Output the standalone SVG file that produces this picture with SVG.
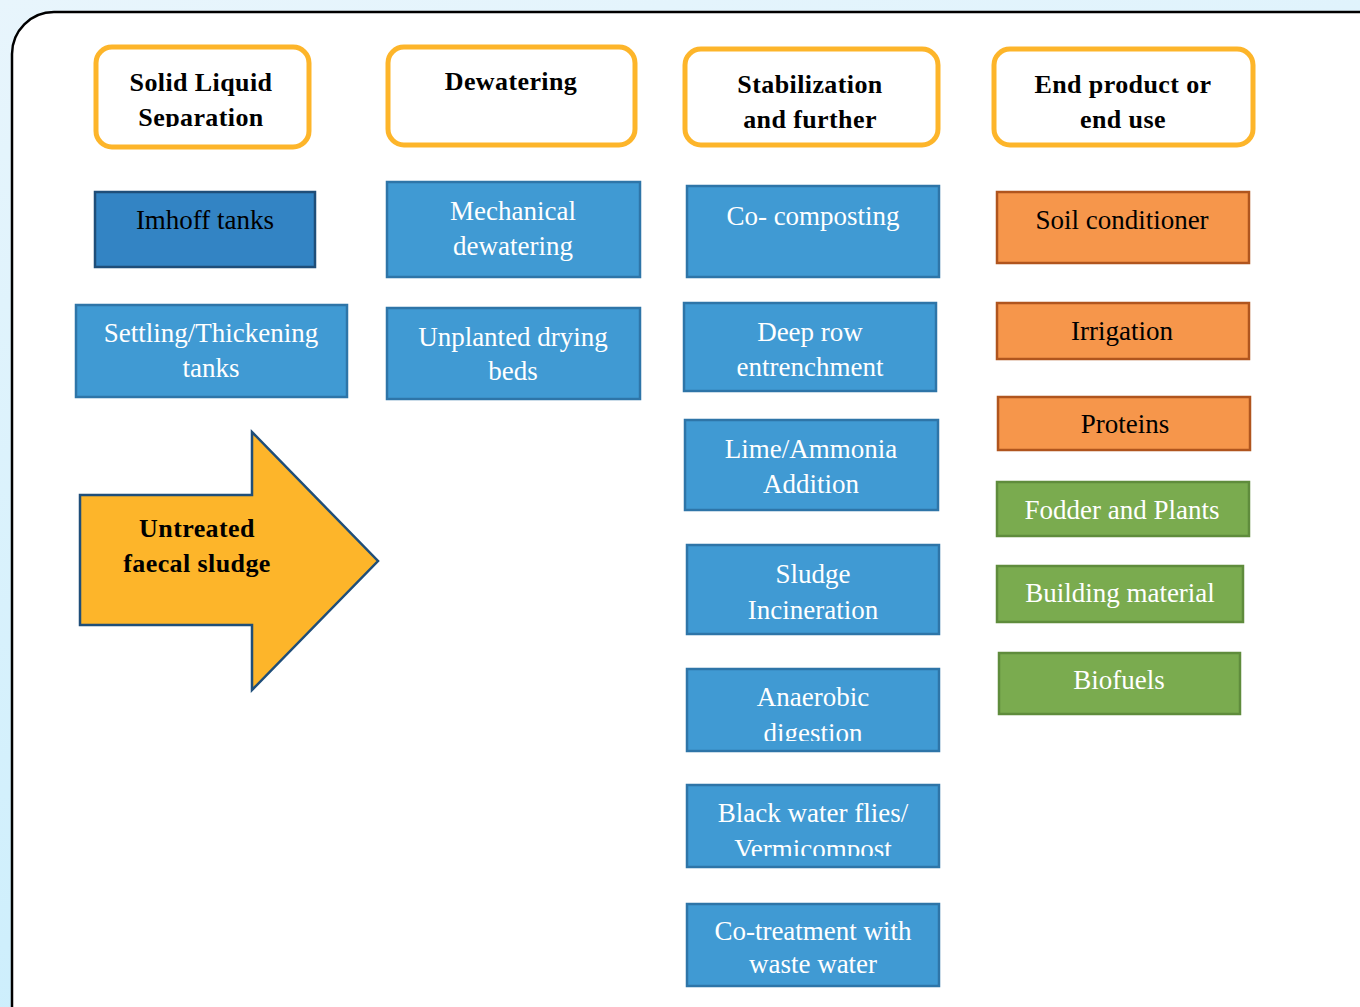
<svg xmlns="http://www.w3.org/2000/svg" width="1360" height="1007" viewBox="0 0 1360 1007">
<defs>
<linearGradient id="bg" x1="0" y1="0" x2="0.3" y2="1">
<stop offset="0" stop-color="#e8f5fc"/>
<stop offset="1" stop-color="#cbeefc"/>
</linearGradient>
<clipPath id="clipSep"><rect x="95" y="46" width="216" height="81"/></clipPath>
<clipPath id="clipAna"><rect x="687" y="669" width="253" height="72"/></clipPath>
<clipPath id="clipBlk"><rect x="687" y="785" width="253" height="71"/></clipPath>
</defs>
<style>
.hdr{fill:#ffffff;stroke:#FDB52A;stroke-width:5}
.blue{fill:#409AD3;stroke:#2E75A8;stroke-width:2.5}
.dblue{fill:#3384C4;stroke:#1F4E79;stroke-width:2.5}
.orng{fill:#F6964B;stroke:#B0551E;stroke-width:2.5}
.grn{fill:#7AAB4F;stroke:#5F8C3C;stroke-width:2.5}
.ht{font-family:"Liberation Serif","Times New Roman",serif;font-weight:bold;font-size:26px;fill:#000;text-anchor:middle;letter-spacing:0.4px}
.bt{font-family:"Liberation Serif","Times New Roman",serif;font-size:27px;fill:#ffffff;text-anchor:middle}
.kt{font-family:"Liberation Serif","Times New Roman",serif;font-size:27px;fill:#000000;text-anchor:middle}
</style>
<rect width="1360" height="1007" fill="url(#bg)"/>
<rect x="12" y="12" width="1420" height="1060" rx="42" fill="#ffffff" stroke="#000000" stroke-width="2.5"/>

<g id="h1"><rect class="hdr" x="96" y="47" width="213" height="100" rx="16"/>
<g clip-path="url(#clipSep)"><text class="ht" x="201" y="91">Solid Liquid</text><text class="ht" x="201" y="126">Separation</text></g></g>
<g id="h2"><rect class="hdr" x="388" y="47" width="247" height="98" rx="16"/>
<text class="ht" x="511" y="90">Dewatering</text></g>
<g id="h3"><rect class="hdr" x="685" y="49" width="253" height="96" rx="16"/>
<text class="ht" x="810" y="93">Stabilization</text><text class="ht" x="810" y="128">and further</text></g>
<g id="h4"><rect class="hdr" x="994" y="49" width="259" height="96" rx="16"/>
<text class="ht" x="1123" y="93">End product or</text><text class="ht" x="1123" y="128">end use</text></g>

<g id="imhoff"><rect class="dblue" x="95" y="192" width="220" height="75"/><text class="kt" x="205" y="229">Imhoff tanks</text></g>
<g id="settling"><rect class="blue" x="76" y="305" width="271" height="92"/><text class="bt" x="211" y="342">Settling/Thickening</text><text class="bt" x="211" y="377">tanks</text></g>
<g id="mech"><rect class="blue" x="387" y="182" width="253" height="95"/><text class="bt" x="513" y="220">Mechanical</text><text class="bt" x="513" y="255">dewatering</text></g>
<g id="unplanted"><rect class="blue" x="387" y="308" width="253" height="91"/><text class="bt" x="513" y="346">Unplanted drying</text><text class="bt" x="513" y="380">beds</text></g>

<g id="cocomp"><rect class="blue" x="687" y="186" width="252" height="91"/><text class="bt" x="813" y="225">Co- composting</text></g>
<g id="deeprow"><rect class="blue" x="684" y="303" width="252" height="88"/><text class="bt" x="810" y="341">Deep row</text><text class="bt" x="810" y="376">entrenchment</text></g>
<g id="lime"><rect class="blue" x="685" y="420" width="253" height="90"/><text class="bt" x="811" y="458">Lime/Ammonia</text><text class="bt" x="811" y="493">Addition</text></g>
<g id="incin"><rect class="blue" x="687" y="545" width="252" height="89"/><text class="bt" x="813" y="583">Sludge</text><text class="bt" x="813" y="619">Incineration</text></g>
<g id="anaer"><rect class="blue" x="687" y="669" width="252" height="82"/><g clip-path="url(#clipAna)"><text class="bt" x="813" y="706">Anaerobic</text><text class="bt" x="813" y="742">digestion</text></g></g>
<g id="bsf"><rect class="blue" x="687" y="785" width="252" height="82"/><g clip-path="url(#clipBlk)"><text class="bt" x="813" y="822">Black water flies/</text><text class="bt" x="813" y="858">Vermicompost</text></g></g>
<g id="cotreat"><rect class="blue" x="687" y="904" width="252" height="82"/><text class="bt" x="813" y="940">Co-treatment with</text><text class="bt" x="813" y="973">waste water</text></g>

<g id="soil"><rect class="orng" x="997" y="192" width="252" height="71"/><text class="kt" x="1122" y="229">Soil conditioner</text></g>
<g id="irrig"><rect class="orng" x="997" y="303" width="252" height="56"/><text class="kt" x="1122" y="340">Irrigation</text></g>
<g id="prot"><rect class="orng" x="998" y="397" width="252" height="53"/><text class="kt" x="1125" y="433">Proteins</text></g>
<g id="fodder"><rect class="grn" x="997" y="482" width="252" height="54"/><text class="bt" x="1122" y="519">Fodder and Plants</text></g>
<g id="build"><rect class="grn" x="997" y="566" width="246" height="56"/><text class="bt" x="1120" y="602">Building material</text></g>
<g id="biof"><rect class="grn" x="999" y="653" width="241" height="61"/><text class="bt" x="1119" y="689">Biofuels</text></g>

<g id="input"><polygon points="80,495 252,495 252,432 378,561 252,690 252,625 80,625" fill="#FDB52A" stroke="#1F4E79" stroke-width="2.5"/>
<text class="ht" x="197" y="537">Untreated</text><text class="ht" x="197" y="572">faecal sludge</text></g>
<g id="connectors"></g>
</svg>
